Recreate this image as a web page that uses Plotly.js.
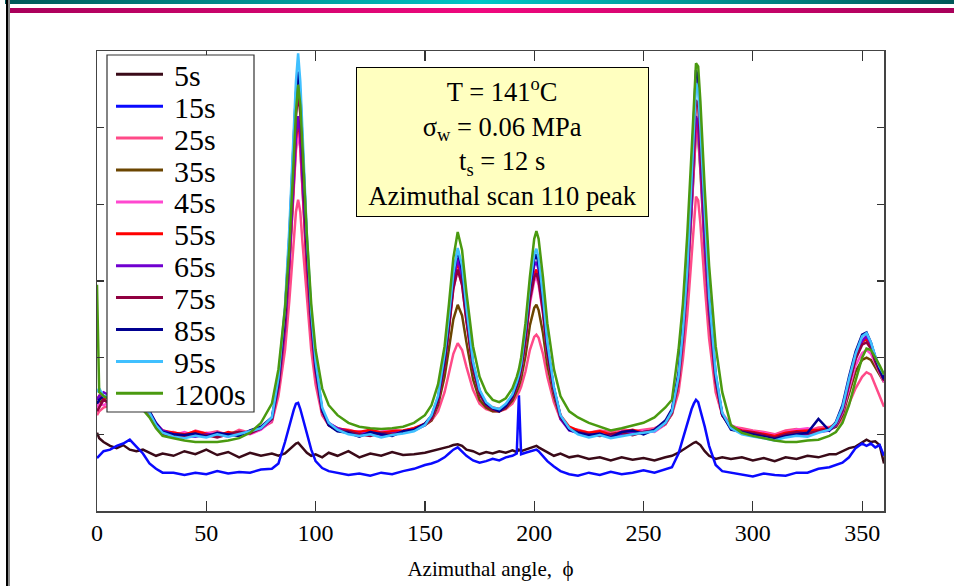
<!DOCTYPE html>
<html><head><meta charset="utf-8">
<script src="https://cdn.plot.ly/plotly-3.0.1.min.js"></script>
<style>
html,body{margin:0;padding:0;background:#fff;}
#wrap{position:relative;width:954px;height:586px;overflow:hidden;background:#fff;}
#chart{position:absolute;left:0;top:0;width:954px;height:586px;}
.deco{position:absolute;pointer-events:none;z-index:5;}
</style></head><body>
<div id="wrap">
<div id="chart"></div>
<div class="deco" style="left:5px;top:0;width:949px;height:4px;background:linear-gradient(to right,#005858,#00c6c6 50%,#005858);"></div>
<div class="deco" style="left:9px;top:8px;width:945px;height:5px;background:linear-gradient(to right,#a8005a,#f0087e 50%,#a8005a);"></div>
<div class="deco" style="left:6px;top:0;width:2px;height:586px;background:#000;"></div>
<div class="deco" style="left:8px;top:0;width:2px;height:586px;background:#8a8a8a;"></div>
</div>
<script>
// ---------- data ----------
const angle = [0,1,3,6,9,12,15,18,21,24,27,30, 35,40,45,50,55,60,65,70,75,80, 83,86,88,90,91,92,93,94,96,98,100,103,106,110, 115,120,125,130,135,140,145,150, 153,156,159,161,163,165,167,169,172,175,178,181,184,187, 190,192,193,194,196,198,200,201,202,204,206,209,212,216, 220,225,230,235,240,245,250,255,260,263, 266,268,270,272,273,274,275,276,278,280,283,286,290, 295,300,305,310,315,320,325,330,335, 338,341,344,347,350,352,354,356,358,360];

const s5 = [1.02,0.95,0.9,0.85,0.82,0.86,0.8,0.78,0.8,0.76,0.72,0.75, 0.72,0.78,0.74,0.8,0.73,0.77,0.7,0.76,0.72,0.75, 0.72,0.75,0.8,0.86,0.88,0.89,0.86,0.82,0.76,0.72,0.74,0.7,0.76,0.72, 0.78,0.7,0.75,0.72,0.77,0.73,0.74,0.76, 0.78,0.8,0.82,0.84,0.86,0.87,0.85,0.8,0.78,0.74,0.77,0.75,0.78,0.76, 0.79,0.77,0.8,0.78,0.8,0.82,0.84,0.85,0.83,0.8,0.76,0.72,0.75,0.7, 0.72,0.68,0.7,0.66,0.7,0.67,0.69,0.66,0.7,0.72, 0.76,0.8,0.84,0.87,0.89,0.9,0.88,0.86,0.78,0.72,0.68,0.7,0.68, 0.7,0.66,0.69,0.65,0.7,0.68,0.72,0.7,0.74, 0.74,0.78,0.82,0.84,0.9,0.93,0.9,0.91,0.86,0.62];

const s15 = [0.69,0.72,0.78,0.8,0.85,0.88,0.93,0.84,0.75,0.62,0.55,0.5, 0.5,0.47,0.5,0.48,0.52,0.49,0.51,0.5,0.54,0.55, 0.62,0.9,1.12,1.32,1.4,1.41,1.33,1.22,1.0,0.8,0.65,0.56,0.52,0.5, 0.47,0.49,0.46,0.5,0.48,0.52,0.55,0.6, 0.62,0.65,0.7,0.75,0.8,0.83,0.78,0.72,0.66,0.63,0.65,0.68,0.66,0.7, 0.72,0.75,1.51,0.74,0.76,0.78,0.8,0.8,0.78,0.72,0.65,0.58,0.52,0.48, 0.46,0.5,0.47,0.51,0.48,0.5,0.53,0.5,0.55,0.57, 0.75,0.95,1.15,1.33,1.4,1.45,1.42,1.32,1.1,0.85,0.6,0.52,0.5, 0.48,0.45,0.49,0.47,0.46,0.5,0.5,0.55,0.57, 0.6,0.63,0.7,0.82,0.88,0.85,0.88,0.83,0.86,0.72];

const s25 = [1.25,1.3,1.35,1.38,1.35,1.4,1.36,1.38,1.32,1.25,1.1,1.02, 1.03,0.98,1.05,1.01,1.04,0.99,1.06,1.02,1.08,1.16, 1.5,2.1,2.75,3.5,3.9,4.06,3.9,3.5,2.75,2.1,1.65,1.25,1.12,1.07, 1.06,1.02,1.05,1.03,1.06,1.04,1.08,1.12, 1.18,1.3,1.55,1.78,2.05,2.19,2.1,1.88,1.58,1.4,1.33,1.3,1.3,1.33, 1.4,1.5,1.55,1.62,1.82,2.1,2.27,2.3,2.26,2.05,1.75,1.42,1.2,1.08, 1.06,1.02,1.05,1.03,1.07,1.04,1.06,1.08,1.14,1.26, 1.55,1.98,2.55,3.3,3.8,4.1,4.05,3.75,2.95,2.25,1.55,1.25,1.1, 1.08,1.05,1.03,1.0,1.05,1.07,1.04,1.09,1.1, 1.1,1.2,1.4,1.6,1.75,1.81,1.78,1.65,1.5,1.36];

const s35 = [1.4,1.42,1.45,1.4,1.43,1.4,1.42,1.38,1.34,1.26,1.12,1.03, 1.0,0.98,1.02,1.0,0.99,1.01,1.03,1.02,1.07,1.18, 1.6,2.35,3.2,4.25,4.75,5.0,4.75,4.22,3.15,2.35,1.78,1.28,1.12,1.05, 1.03,1.01,1.03,1.0,1.02,1.04,1.06,1.12, 1.18,1.38,1.75,2.12,2.5,2.69,2.55,2.2,1.72,1.45,1.35,1.3,1.3,1.34, 1.44,1.56,1.63,1.73,2.02,2.42,2.65,2.69,2.62,2.32,1.9,1.5,1.22,1.07, 1.03,1.0,1.02,0.99,1.01,1.03,1.02,1.05,1.13,1.27, 1.65,2.2,2.92,3.9,4.5,4.95,4.88,4.45,3.4,2.55,1.68,1.26,1.1, 1.04,1.01,1.0,0.97,1.0,1.02,1.03,1.04,1.06, 1.1,1.25,1.55,1.82,1.97,2.0,1.97,1.87,1.78,1.68];

const s45 = [1.35,1.4,1.38,1.42,1.4,1.45,1.38,1.4,1.33,1.25,1.1,1.02, 0.99,1.03,0.98,1.02,1.0,0.97,1.02,1.0,1.06,1.18, 1.6,2.35,3.2,4.2,4.7,4.95,4.72,4.2,3.15,2.35,1.78,1.28,1.12,1.06, 1.02,1.04,1.0,1.03,1.05,1.02,1.07,1.13, 1.2,1.43,1.92,2.38,2.9,3.15,2.95,2.48,1.86,1.53,1.4,1.33,1.32,1.37, 1.48,1.62,1.7,1.83,2.2,2.7,3.0,3.05,2.95,2.58,2.05,1.55,1.24,1.08, 1.04,1.0,1.03,0.99,1.04,1.02,1.05,1.03,1.13,1.28, 1.66,2.22,2.95,3.92,4.55,5.0,4.92,4.5,3.45,2.58,1.7,1.28,1.12, 1.06,1.04,1.02,0.99,1.03,1.06,1.08,1.05,1.09, 1.12,1.28,1.6,1.9,2.06,2.1,2.05,1.92,1.8,1.68];

const s55 = [1.45,1.5,1.45,1.5,1.42,1.45,1.5,1.42,1.35,1.27,1.13,1.05, 1.02,1.0,1.04,1.01,0.98,1.03,1.0,1.04,1.09,1.2, 1.62,2.4,3.25,4.3,4.85,5.1,4.85,4.3,3.2,2.4,1.82,1.3,1.14,1.08, 1.05,1.03,1.06,1.02,1.04,1.05,1.08,1.14, 1.22,1.45,1.95,2.42,2.95,3.25,3.02,2.52,1.88,1.55,1.4,1.35,1.33,1.38, 1.5,1.64,1.73,1.86,2.26,2.8,3.1,3.15,3.05,2.65,2.1,1.58,1.25,1.1, 1.05,1.02,1.04,1.0,1.03,1.06,1.02,1.05,1.14,1.3, 1.68,2.26,3.0,4.0,4.65,5.1,5.02,4.6,3.5,2.6,1.7,1.26,1.1, 1.05,1.03,1.0,0.98,1.02,1.04,1.05,1.06,1.08, 1.15,1.32,1.68,2.0,2.2,2.25,2.15,1.98,1.85,1.72];

const s65 = [1.45,1.5,1.55,1.5,1.45,1.5,1.45,1.4,1.35,1.3,1.15,1.05, 1.0,0.98,0.97,1.0,0.99,0.98,1.02,1.03,1.07,1.2, 1.63,2.4,3.26,4.33,4.9,5.15,4.9,4.35,3.3,2.45,1.83,1.3,1.15,1.08, 1.03,1.0,1.02,0.99,1.01,1.03,1.05,1.12, 1.22,1.45,1.95,2.45,3.0,3.3,3.05,2.55,1.9,1.55,1.4,1.33,1.32,1.38, 1.5,1.65,1.75,1.88,2.3,2.85,3.2,3.25,3.15,2.7,2.15,1.6,1.2,1.05, 1.02,0.98,1.0,0.97,1.0,1.02,1.03,1.05,1.15,1.3, 1.71,2.28,3.02,4.0,4.66,5.15,5.05,4.6,3.5,2.61,1.71,1.25,1.1, 1.02,1.0,0.98,0.95,0.97,0.99,1.0,1.03,1.05, 1.12,1.3,1.65,2.0,2.22,2.28,2.18,2.0,1.85,1.75];

const s75 = [1.3,1.35,1.45,1.4,1.45,1.42,1.4,1.38,1.36,1.28,1.12,1.0, 0.98,0.97,1.0,0.99,0.96,1.0,1.03,1.01,1.08,1.2, 1.65,2.5,3.45,4.6,5.15,5.45,5.18,4.6,3.4,2.5,1.86,1.3,1.12,1.05, 1.04,1.0,0.98,1.02,1.0,1.02,1.06,1.13, 1.2,1.42,1.9,2.38,2.9,3.15,2.95,2.48,1.85,1.52,1.38,1.32,1.3,1.35, 1.47,1.62,1.7,1.84,2.22,2.75,3.05,3.1,3.0,2.6,2.05,1.55,1.22,1.07, 1.03,1.0,0.98,1.0,1.02,0.99,1.03,1.05,1.15,1.28, 1.7,2.3,3.1,4.2,4.85,5.36,5.3,4.8,3.65,2.7,1.72,1.25,1.08, 1.04,1.02,0.99,0.96,1.0,1.03,1.01,1.04,1.07, 1.14,1.32,1.66,1.98,2.17,2.2,2.12,1.95,1.82,1.7];

const s85 = [1.4,1.45,1.5,1.48,1.5,1.45,1.42,1.45,1.38,1.3,1.14,1.03, 1.0,0.99,1.01,0.97,1.02,1.0,0.98,1.05,1.1,1.22, 1.7,2.6,3.6,4.85,5.45,5.73,5.45,4.8,3.5,2.55,1.9,1.32,1.12,1.04, 1.02,0.97,1.03,1.0,0.98,1.04,1.06,1.14, 1.24,1.48,2.0,2.5,3.08,3.4,3.15,2.62,1.93,1.57,1.4,1.34,1.3,1.37, 1.5,1.66,1.76,1.9,2.35,2.9,3.28,3.35,3.22,2.75,2.15,1.6,1.24,1.06, 1.02,0.99,1.01,0.96,1.03,1.05,1.0,1.06,1.18,1.33, 1.8,2.45,3.3,4.45,5.15,5.75,5.65,5.1,3.85,2.8,1.78,1.26,1.06, 1.03,1.0,0.97,0.94,0.98,1.0,1.02,1.2,1.05, 1.16,1.38,1.75,2.08,2.3,2.33,2.2,2.0,1.85,1.72];

const s95 = [1.55,1.6,1.5,1.5,1.45,1.5,1.45,1.4,1.35,1.28,1.12,1.02, 0.97,0.95,0.98,0.96,1.0,0.97,1.0,1.04,1.08,1.22, 1.74,2.67,3.7,5.0,5.6,5.97,5.6,4.95,3.6,2.6,1.95,1.35,1.15,1.06, 1.0,0.98,1.0,0.96,0.99,1.01,1.04,1.12, 1.25,1.5,2.05,2.55,3.1,3.43,3.2,2.65,1.95,1.58,1.42,1.35,1.33,1.4, 1.52,1.68,1.78,1.92,2.38,2.95,3.35,3.42,3.3,2.8,2.2,1.62,1.25,1.08, 1.0,0.96,0.99,0.95,0.98,1.0,1.02,1.04,1.15,1.3, 1.75,2.35,3.15,4.25,4.95,5.58,5.5,5.0,3.8,2.8,1.8,1.28,1.08, 1.0,0.97,0.95,0.92,0.96,0.98,0.97,1.02,1.06, 1.15,1.35,1.72,2.05,2.28,2.32,2.2,2.02,1.88,1.78];

const s1200 = [2.95,1.55,1.5,1.45,1.42,1.4,1.42,1.38,1.32,1.22,1.08,0.98, 0.95,0.92,0.9,0.9,0.9,0.92,0.95,1.02,1.15,1.4, 1.85,2.65,3.45,4.6,5.2,5.56,5.3,4.75,3.6,2.7,2.1,1.6,1.38,1.25, 1.15,1.1,1.08,1.07,1.08,1.1,1.15,1.25, 1.38,1.65,2.15,2.7,3.3,3.64,3.4,2.85,2.15,1.75,1.55,1.45,1.42,1.47, 1.6,1.75,1.85,2.0,2.45,3.05,3.55,3.65,3.55,3.05,2.45,1.85,1.5,1.3, 1.22,1.15,1.1,1.05,1.08,1.12,1.15,1.22,1.35,1.45, 2.1,2.7,3.6,4.7,5.35,5.84,5.8,5.35,4.2,3.2,2.15,1.55,1.12, 1.02,0.98,0.95,0.92,0.9,0.9,0.92,0.93,0.98, 1.03,1.15,1.38,1.7,2.0,2.12,2.1,2.0,1.9,1.78];

const seriesNames = ['5s','15s','25s','35s','45s','55s','65s','75s','85s','95s','1200s'];
const seriesValues = [s5,s15,s25,s35,s45,s55,s65,s75,s85,s95,s1200];
const seriesColors = ['#3a0a18','#0a0aff','#ff4a88','#6b4500','#ff48d0','#ff0000','#7000d0','#900040','#000090','#40c0ff','#4a9a10'];
const xTicks = [0,50,100,150,200,250,300,350];
const infoLines = ['T = 141<sup>o</sup>C','σ<sub>w</sub> = 0.06 MPa','t<sub>s</sub> = 12 s','Azimuthal scan 110 peak'];
const xTitle = 'Azimuthal angle,  ϕ';

// ---------- layout helpers ----------
const L=97, T=51, W=787, H=460;
const px = x => (x-L)/W;
const py = y => (T+H-y)/H;
const FONT = 'Liberation Serif, Times New Roman, serif';

const traces = seriesNames.map((n,i)=>({
  type:'scatter', mode:'lines', name:n, x:angle, y:seriesValues[i],
  line:{color:seriesColors[i], width:2.5}, showlegend:false, hoverinfo:'skip'
}));

const shapes = [{type:'rect', xref:'paper', yref:'paper', x0:px(107), x1:px(254), y0:py(412), y1:py(55),
  fillcolor:'#ffffff', line:{color:'#333', width:1.2}, layer:'above'}];
const annotations = [];
seriesNames.forEach((n,i)=>{
  const yc = 74.3 + i*31.9;
  shapes.push({type:'line', xref:'paper', yref:'paper', x0:px(116), x1:px(163), y0:py(yc), y1:py(yc),
    line:{color:seriesColors[i], width:3}, layer:'above'});
  annotations.push({xref:'paper', yref:'paper', x:px(172), y:py(yc+1), xanchor:'left', yanchor:'middle',
    text:n, showarrow:false, font:{family:FONT, size:30, color:'#000'}});
});
annotations.push({xref:'paper', yref:'paper', x:px(502.5), y:py(142), xanchor:'center', yanchor:'middle',
  text:infoLines.join('<br>'), showarrow:false, align:'center', width:291, height:148,
  bgcolor:'#ffffc0', bordercolor:'#000', borderwidth:1, borderpad:0,
  font:{family:FONT, size:26.5, color:'#000'}});

const layout = {
  width:954, height:586, margin:{l:L, r:954-L-W, t:T, b:586-T-H},
  paper_bgcolor:'rgba(0,0,0,0)', plot_bgcolor:'#fff',
  font:{family:FONT, color:'#000'},
  xaxis:{range:[0,360], tickvals:xTicks, ticktext:xTicks.map(String), ticks:'inside', ticklen:10, tickwidth:1.2,
    tickcolor:'#333', showline:true, linecolor:'#444', linewidth:1.5, mirror:'ticks', showgrid:false, zeroline:false,
    tickfont:{family:FONT, size:24, color:'#000'},
    title:{text:xTitle, font:{family:FONT, size:21, color:'#000'}, standoff:16}},
  yaxis:{range:[0,6], dtick:1, ticks:'inside', ticklen:7, tickwidth:1.2, tickcolor:'#333', showticklabels:false,
    showline:true, linecolor:'#444', linewidth:1.5, mirror:'ticks', showgrid:false, zeroline:false},
  shapes:shapes, annotations:annotations, showlegend:false
};
Plotly.newPlot('chart', traces, layout, {displayModeBar:false, staticPlot:true});
</script>
</body></html>
